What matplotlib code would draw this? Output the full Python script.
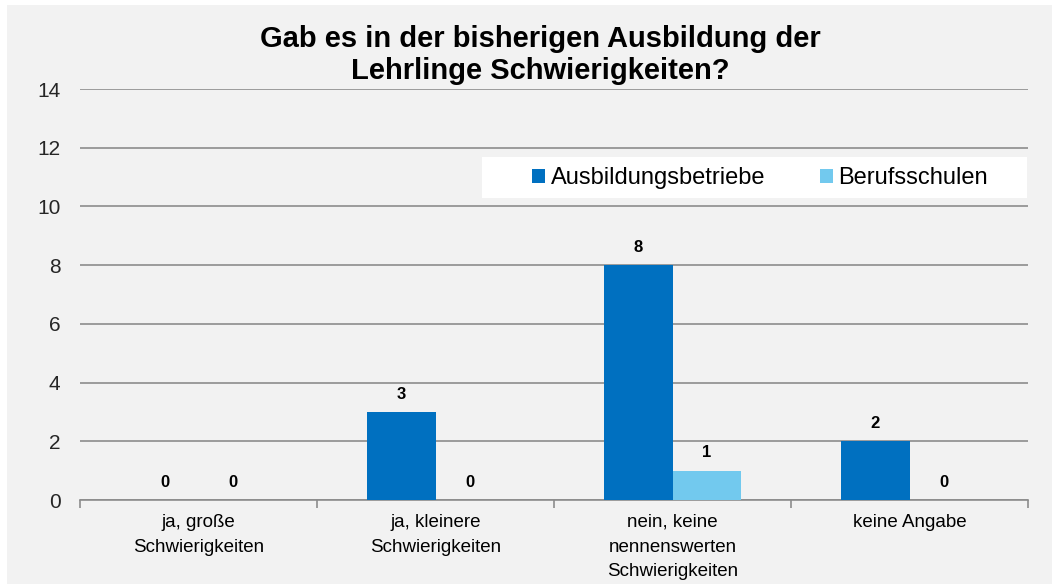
import matplotlib.pyplot as plt
import numpy as np
from matplotlib.patches import Rectangle

plt.rcParams['font.family'] = ['Liberation Sans', 'DejaVu Sans']

kategorien = ['ja, große\nSchwierigkeiten', 'ja, kleinere\nSchwierigkeiten',
              'nein, keine\nnennenswerten\nSchwierigkeiten', 'keine Angabe']
betriebe = [0, 3, 8, 2]
schulen = [0, 0, 1, 0]
serien = ['Ausbildungsbetriebe', 'Berufsschulen']
farben = ['#0070c0', '#72c9ee']
bg = '#f2f2f2'

fig = plt.figure(figsize=(10.52, 5.84), dpi=100, facecolor='white')
fig.patches.append(Rectangle((7 / 1052, 0), 1, 1 - 5 / 584, transform=fig.transFigure,
                             facecolor=bg, edgecolor='none', zorder=-10))
ax = fig.add_axes([80 / 1052, 84 / 584, 948 / 1052, 411 / 584])
ax.set_facecolor(bg)

x = np.arange(len(kategorien))
w = 0.287
b1 = ax.bar(x - w / 2, betriebe, w, color=farben[0], label=serien[0], zorder=3)
b2 = ax.bar(x + w / 2, schulen, w, color=farben[1], label=serien[1], zorder=3)
for bars in (b1, b2):
    for r in bars:
        h = r.get_height()
        ax.text(r.get_x() + r.get_width() / 2, h + 0.35, str(int(h)),
                ha='center', va='bottom', fontsize=12, fontweight='bold')

ax.set_xlim(-0.5, len(kategorien) - 0.5)
ax.set_ylim(0, 14)
ax.set_yticks(range(0, 15, 2))
ax.yaxis.grid(True, color='#8c8c8c', linewidth=1.2)
ax.set_axisbelow(True)
ax.tick_params(axis='y', length=0, labelsize=15, pad=14, labelcolor='#262626')
ax.set_xticks(x)
ax.set_xticklabels(kategorien, fontsize=13.5, va='top', linespacing=1.6)
ax.set_xticks(np.arange(-0.5, len(kategorien)), minor=True)
ax.tick_params(axis='x', which='major', length=0, pad=10)
ax.tick_params(axis='x', which='minor', length=6, color='#8c8c8c', width=1.2)
for s in ['left', 'right', 'top']:
    ax.spines[s].set_visible(False)
ax.spines['bottom'].set_color('#8c8c8c')
ax.spines['bottom'].set_linewidth(1.2)

# weisser Legendenkasten
ax.add_patch(Rectangle((482 / 1052, 1 - 198 / 584), 545 / 1052, 41 / 584, transform=fig.transFigure,
                       facecolor='white', edgecolor='none', zorder=4))
leg = ax.legend(loc='center', bbox_to_anchor=(760 / 1052, 1 - 178 / 584),
                bbox_transform=fig.transFigure, ncol=2, fontsize=17,
                frameon=False, handlelength=0.55, handleheight=0.55, handletextpad=0.25,
                columnspacing=2.3, borderpad=0, borderaxespad=0)
leg.set_zorder(5)

fig.text(540 / 1052, 1 - 55 / 584, 'Gab es in der bisherigen Ausbildung der\nLehrlinge Schwierigkeiten?',
         ha='center', va='center', fontsize=21, fontweight='bold', linespacing=1.15)

fig.savefig('out.png', dpi=100, facecolor=fig.get_facecolor())
